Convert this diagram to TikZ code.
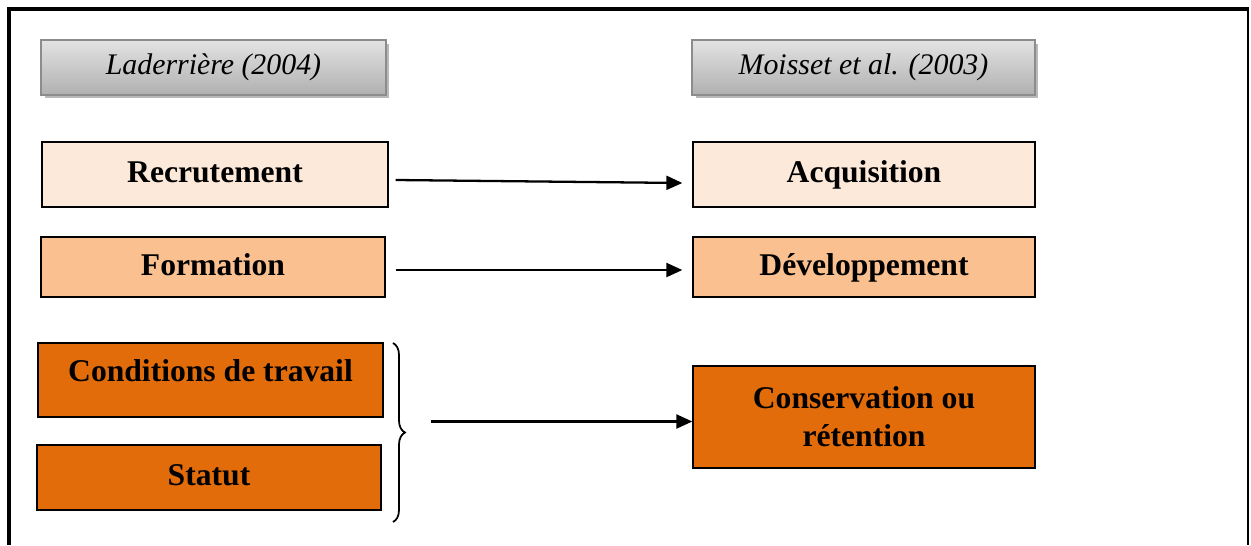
\documentclass[tikz,border=0pt]{standalone}
\usepackage{fontspec}
\setmainfont{Liberation Serif}
\usetikzlibrary{positioning,shadows,arrows.meta,decorations.pathreplacing}

\definecolor{peachlight}{HTML}{FDE9D9}
\definecolor{peachmid}{HTML}{FAC090}
\definecolor{orangedark}{HTML}{E36C0A}

\tikzset{
  author/.style={draw=gray!110!black, line width=0.9pt, inner sep=0pt,
    minimum height=1.1cm, top color=gray!22, middle color=white!96!gray,
    bottom color=gray!62,
    drop shadow={shadow xshift=0.07cm, shadow yshift=-0.07cm, fill=gray!55, opacity=1},
    font=\fontsize{17}{20}\selectfont\itshape},
  stage/.style={draw=black, line width=0.8pt, inner sep=0pt, align=center,
    font=\fontsize{18}{21.6}\selectfont\bfseries},
  oneline/.style={text height=0.46cm, text depth=0.14cm},
  arr/.style={line width=1.3pt, -{Triangle[length=0.32cm,width=0.28cm]}}
}

\begin{document}
\begin{tikzpicture}[x=0.02cm,y=-0.02cm]
    \useasboundingbox (0,0) rectangle (1251,545);

    % cadre
    \draw[line width=2.3pt] (9,545) -- (9,9) -- (1249,9);
    \draw[line width=1.2pt] (1248,9) -- (1248,545);

    % auteurs
    \node[author, minimum width=6.9cm] (lad) at (213.5,67.5) {Laderrière (2004)};
    \node[author, minimum width=6.86cm] (moi) at (863.5,67.5) {Moisset et al. (2003)};

    % colonne de gauche
    \node[stage, oneline, fill=peachlight, minimum width=6.92cm, minimum height=1.3cm] (rec) at (215,174.5) {Recrutement};
    \node[stage, oneline, fill=peachmid, minimum width=6.88cm, minimum height=1.2cm] (form) at (213,267) {Formation};
    \node[stage, fill=orangedark, minimum width=6.9cm, minimum height=1.48cm, text height=0.46cm, text depth=0.42cm] (cond) at (210.5,380) {Conditions de travail};
    \node[stage, oneline, fill=orangedark, minimum width=6.88cm, minimum height=1.3cm] (stat) at (209,477.5) {Statut};

    % colonne de droite
    \node[stage, oneline, fill=peachlight, minimum width=6.84cm, minimum height=1.3cm] (acq) at (864,174.5) {Acquisition};
    \node[stage, oneline, fill=peachmid, minimum width=6.84cm, minimum height=1.2cm] (dev) at (864,267) {Développement};
    \node[stage, fill=orangedark, minimum width=6.84cm, minimum height=2.04cm] (cons) at (864,417) {Conservation ou\\rétention};

    % accolade
    \coordinate (btop) at (393,343);
    \coordinate (bbot) at (393,522);
    \draw[line width=1pt, decorate, decoration={brace, amplitude=0.24cm}] (btop) -- (bbot)
        coordinate[pos=0.5, xshift=0.76cm, yshift=0.22cm] (btip);

    % fleches
    \draw[arr] ([xshift=0.14cm,yshift=-0.11cm]rec.east) -- ([xshift=-0.2cm,yshift=-0.17cm]acq.west);
    \draw[arr] ([xshift=0.2cm,yshift=-0.06cm]form.east) -- ([xshift=-0.2cm,yshift=-0.06cm]dev.west);
    \draw[arr] (btip) -- (btip -| cons.west) ;
\end{tikzpicture}
\end{document}
